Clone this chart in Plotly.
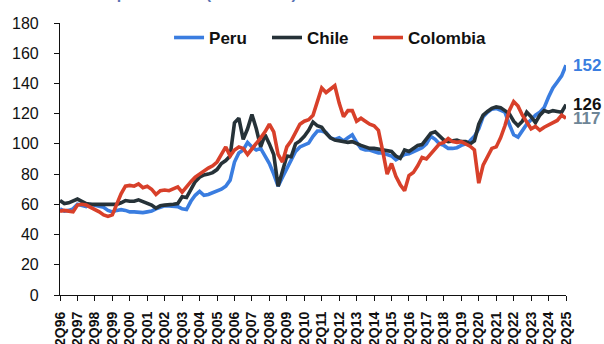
import plotly.graph_objects as go

# Quarterly labels 2Q96 .. 2Q25
quarters = []
for yr in range(1996, 2026):
    for q in (1, 2, 3, 4):
        if (yr == 1996 and q < 2) or (yr == 2025 and q > 2):
            continue
        quarters.append(f"{q}Q{str(yr)[2:]}")

tick_labels = [lab for lab in quarters if lab.startswith("2Q")]

peru = [
    57, 55.5, 56, 57, 60, 59.5, 58.5, 60, 59.5, 59, 58, 56, 55, 56, 56.5, 56,
    55, 55, 54.5, 54.5, 55, 55.5, 57, 58, 59, 59, 59, 58.5, 57, 56.5, 62, 66,
    68.5, 66, 66.5, 67.5, 69, 70, 72, 76, 88, 94, 96, 101, 98, 96, 97, 92,
    87, 80, 72, 78, 84, 89, 95, 98, 99.5, 100.5, 105, 108.5, 108.5, 107.5, 104, 103,
    104, 102, 104, 106, 101, 97, 96, 96, 95, 94, 94, 93, 92, 89.5, 91, 93,
    93.5, 95, 96, 97.5, 100, 105, 103, 100, 99, 97, 97, 97.5, 99, 100, 102, 105,
    110, 118, 121, 123, 123.5, 122, 121, 113, 106, 104.5, 109, 113, 116, 119, 121, 124,
    131, 137, 141, 145, 152,
]

chile = [
    62.5, 60.5, 61, 62, 63.5, 62, 60.5, 60, 60, 59.5, 59.5, 59.5, 59.5, 60, 61, 62.5,
    62, 62, 63, 62, 61, 59.5, 57.5, 59, 59.5, 59.5, 60, 60.5, 65, 64.5, 70, 75,
    78, 79.5, 80, 81, 83, 87, 89, 92, 114, 117, 103, 110, 119.5, 110, 98, 106,
    100, 93, 72, 83, 92, 91.5, 100, 102, 105, 109, 114.5, 112, 111, 107, 104, 102.5,
    102, 101, 101, 101.5, 100, 99, 98, 97, 97, 96.5, 96, 96, 95, 92, 90.5, 96,
    95, 97, 99, 99.5, 103, 107, 108, 105, 102.5, 101.5, 102, 102.5, 101.5, 101.5, 100, 102,
    113, 119, 121.5, 123.5, 124.5, 124, 122, 120, 115, 112, 115, 121, 118, 114, 119, 122,
    121, 122, 121.5, 121, 126,
]

colombia = [
    55.5, 56, 55.5, 55, 59.5, 60, 59.5, 58, 57, 55, 53, 52, 53, 60, 67, 72,
    72.5, 72, 73.5, 71, 72, 70, 66.5, 69, 69.5, 69, 70, 71.5, 68, 72, 75, 78,
    80, 82.5, 84, 85.5, 88, 93, 98, 92, 96, 98, 97, 93, 97, 100, 104, 108,
    113, 108, 93, 88, 98, 102, 108, 113, 115, 116, 119, 128, 137, 134, 136, 138.5,
    127, 118, 122, 122, 115, 117, 115, 113, 112, 109, 95, 80, 87, 78.5, 73, 69,
    79, 81, 85.5, 91, 90, 93.5, 97, 100, 101, 103.5, 101.5, 101, 101.5, 100, 98.5, 96,
    74, 86, 91, 97, 98, 104, 112, 122, 128, 125, 119, 114, 110, 111.5, 109, 111,
    112.5, 113.5, 115.5, 119, 117,
]

series = [
    ("Peru", peru, "#3a7de0", "#3a7de0"),
    ("Chile", chile, "#263238", "#111111"),
    ("Colombia", colombia, "#d8402a", "#6e8596"),
]

FONT = "Liberation Sans, Arial, sans-serif"
LEGEND_IDS = ["legend", "legend2", "legend3"]
LEGEND_X = [0.2155, 0.4091, 0.6087]

fig = go.Figure()
for (name, vals, color, _), lid in zip(series, LEGEND_IDS):
    fig.add_trace(go.Scatter(
        x=quarters, y=vals, name=name, mode="lines",
        line=dict(color=color, width=3.6), legend=lid,
    ))

# End-of-series value labels
for name, vals, color, label_color in series:
    fig.add_annotation(
        x=quarters[-1], y=vals[-1], text=f"<b>{vals[-1]:.0f}</b>",
        xanchor="left", yanchor="middle", xshift=5, showarrow=False,
        font=dict(family=FONT, size=17, color=label_color),
    )

# Title line sitting above the plot
fig.add_annotation(
    xref="paper", yref="paper", x=-0.069, y=1.071,
    xanchor="left", yanchor="bottom", showarrow=False,
    text="<b>Real house price index (2010 = 100)</b>",
    font=dict(family=FONT, size=16, color="#5a74b4"),
)

legend_style = dict(
    orientation="h", y=0.945, xanchor="left", yanchor="middle",
    font=dict(family=FONT, size=17, color="#111111", weight="bold"),
    bgcolor="rgba(0,0,0,0)", itemwidth=30,
)

fig.update_layout(
    width=604, height=344,
    margin=dict(l=60, r=38, t=23, b=49),
    paper_bgcolor="white", plot_bgcolor="white",
    showlegend=True,
    font=dict(family=FONT, color="#111111"),
)
for lid, lx in zip(LEGEND_IDS, LEGEND_X):
    fig.update_layout({lid: dict(legend_style, x=lx)})

fig.update_xaxes(
    type="category", categoryorder="array", categoryarray=quarters,
    range=[0, len(quarters) - 1],
    tickmode="array", tickvals=tick_labels, ticktext=tick_labels,
    tickangle=-90, ticks="outside", ticklen=5, tickcolor="#111111",
    showline=True, linecolor="#111111", linewidth=1.2,
    showgrid=False, zeroline=False, automargin=False,
    tickfont=dict(family=FONT, size=14, color="#111111", weight="bold"),
    ticklabelstandoff=5,
)

fig.update_yaxes(
    range=[0, 180], tickmode="array", tickvals=list(range(0, 181, 20)),
    ticks="outside", ticklen=5, tickcolor="#111111",
    showline=True, linecolor="#111111", linewidth=1.2,
    showgrid=False, zeroline=False, automargin=False,
    tickfont=dict(family=FONT, size=16, color="#111111"),
    ticklabelstandoff=12,
)

fig.write_html("out.html")
